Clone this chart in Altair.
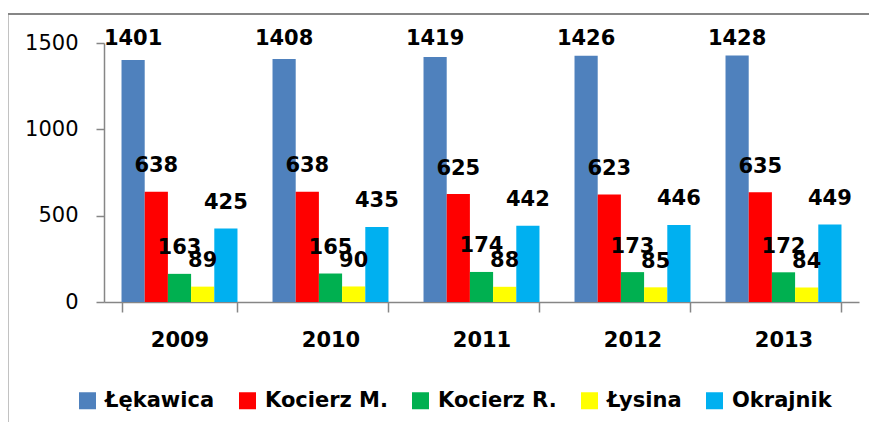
import altair as alt
import pandas as pd

years = ["2009", "2010", "2011", "2012", "2013"]
series = ["Łękawica", "Kocierz M.", "Kocierz R.", "Łysina", "Okrajnik"]
colors = ["#4F81BD", "#FF0000", "#00B050", "#FFFF00", "#00B0F0"]

lekawica = [1401, 1408, 1419, 1426, 1428]
kocierz_m = [638, 638, 625, 623, 635]
kocierz_r = [163, 165, 174, 173, 172]
lysina = [89, 90, 88, 85, 84]
okrajnik = [425, 435, 442, 446, 449]

values = [lekawica, kocierz_m, kocierz_r, lysina, okrajnik]
rows = []
for s, vals in zip(series, values):
    for y, v in zip(years, vals):
        rows.append({"year": y, "series": s, "value": v})
df = pd.DataFrame(rows)

FONT = "DejaVu Sans"
GRAY = "#868686"

yscale = alt.Scale(domain=[0, 1500], nice=False)
xenc = alt.X(
    "year:N",
    sort=years,
    scale=alt.Scale(paddingInner=0.232, paddingOuter=0.116),
    axis=alt.Axis(
        title=None, labelAngle=0, tickBand="extent", tickSize=10,
        labelPadding=17, labelFont=FONT, labelFontSize=21,
        labelFontWeight="bold", labelColor="black",
        domainColor=GRAY, tickColor=GRAY, domainWidth=1.5, tickWidth=1.5,
    ),
)
xoff = alt.XOffset("series:N", sort=series, scale=alt.Scale(paddingInner=0, paddingOuter=0))

base = alt.Chart(df)

bars = base.mark_bar().encode(
    x=xenc,
    xOffset=xoff,
    y=alt.Y(
        "value:Q",
        scale=yscale,
        axis=alt.Axis(
            title=None, values=[0, 500, 1000, 1500], format="d", grid=False,
            tickSize=8, labelPadding=18, labelFont=FONT, labelFontSize=21,
            labelColor="black", domainColor=GRAY, tickColor=GRAY,
            domainWidth=1.5, tickWidth=1.5,
        ),
    ),
    color=alt.Color(
        "series:N",
        sort=series,
        scale=alt.Scale(domain=series, range=colors),
        legend=alt.Legend(
            title=None, orient="none", legendX=-27, legendY=347,
            direction="horizontal", symbolType="square", symbolSize=289,
            symbolStrokeWidth=0, symbolOpacity=1, labelFont=FONT,
            labelFontSize=21, labelFontWeight="bold", labelColor="black",
            labelOffset=7, columnPadding=22, padding=0, labelLimit=300,
        ),
    ),
)

labels = base.transform_calculate(
    labelY="min(datum.value, 1375)"
).mark_text(
    baseline="alphabetic", dy=-19.5, font=FONT, fontSize=21,
    fontWeight="bold", color="black",
).encode(
    x=xenc,
    xOffset=xoff,
    y=alt.Y("labelY:Q", scale=yscale),
    text=alt.Text("value:Q"),
)

frame_data = alt.Data(values=[{"k": 1}])
top_rule = alt.Chart(frame_data).mark_rule(color=GRAY, strokeWidth=2).encode(
    x=alt.value(-97), x2=alt.value(790), y=alt.value(-29)
)
left_rule = alt.Chart(frame_data).mark_rule(color=GRAY, strokeWidth=2).encode(
    x=alt.value(-96.5), y=alt.value(-30), y2=alt.value(420)
)

chart = alt.layer(bars, labels, top_rule, left_rule).properties(
    width=755,
    height=259,
    autosize=alt.AutoSizeParams(type="none"),
    padding={"left": 96, "top": 35, "right": 10, "bottom": 120},
    background="white",
).configure_view(stroke=None)

chart.save("out.html", embed_options={"renderer": "svg", "actions": False})
